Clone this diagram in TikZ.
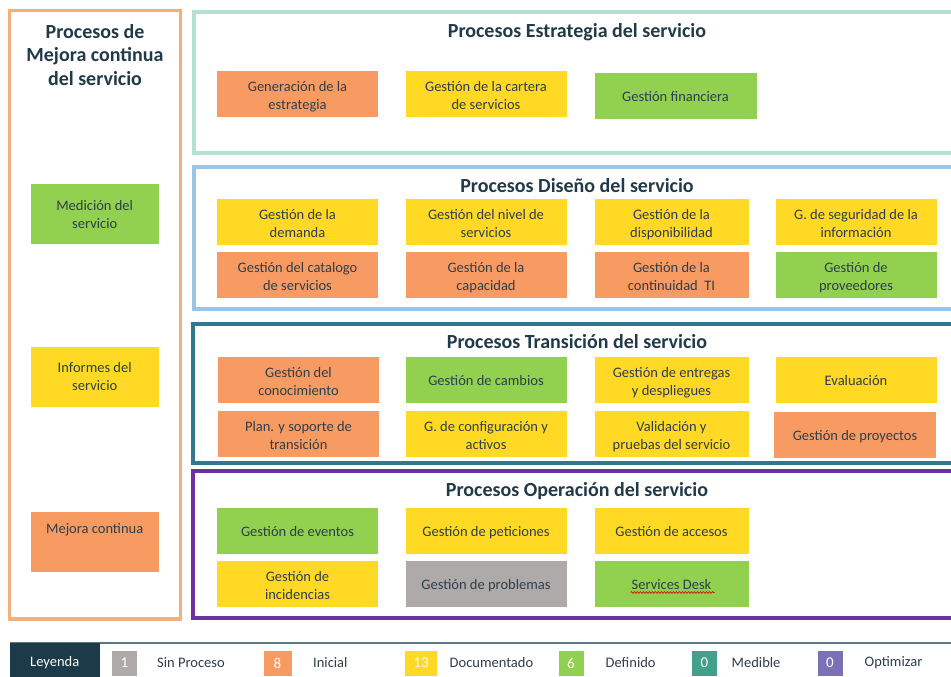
\documentclass[tikz,border=0pt]{standalone}
\usepackage{fontspec}
\setmainfont{Carlito}
\usetikzlibrary{calc,decorations.pathmorphing}

% palette
\definecolor{txt}{HTML}{2E3E4C}
\definecolor{ttl}{HTML}{203A4A}
\definecolor{cOrange}{HTML}{F79B63}
\definecolor{cYellow}{HTML}{FFD923}
\definecolor{cGreen}{HTML}{92D050}
\definecolor{cGrey}{HTML}{AEAAAA}
\definecolor{cTeal}{HTML}{43A08A}
\definecolor{cViolet}{HTML}{7B72B5}
\definecolor{fMejora}{HTML}{F5AF7B}
\definecolor{fEstr}{HTML}{B5E0D3}
\definecolor{fDis}{HTML}{9DC3E6}
\definecolor{fTrans}{HTML}{31788F}
\definecolor{fOper}{HTML}{7030A0}
\definecolor{legLine}{HTML}{5B7883}
\definecolor{legBox}{HTML}{1C3A48}

% two centred lines; the first baseline sits #1 pt below the node centre
\newcommand\twolines[3][-2.3]{\smash{%
  \makebox[0pt]{\raisebox{\dimexpr -#1pt\relax}{#2}}%
  \makebox[0pt]{\raisebox{\dimexpr -#1pt-18pt\relax}{#3}}}}
% one centred line, baseline slightly below the node centre
\newcommand\oneline[1]{\smash{\makebox[0pt]{\raisebox{-5.9pt}{#1}}}}

\tikzset{
  frame/.style={line width=4pt},
  grouptitle/.style={font=\fontsize{20}{23.5}\selectfont\bfseries, text=ttl, align=center, inner sep=0pt},
  pbox/.style={draw=white, line width=0.6pt, minimum width=162pt, minimum height=47pt,
    align=center, inner sep=0pt, font=\fontsize{14.5}{17.7}\selectfont, text=txt},
  narrow/.style={minimum width=155pt},
  lbox/.style={pbox, minimum width=129pt, minimum height=61pt},
  swatch/.style={minimum width=25pt, minimum height=25pt, inner sep=0pt,
    text=white, font=\fontsize{15}{18}\selectfont},
  leglabel/.style={anchor=west, inner sep=0pt, text=txt, font=\fontsize{14.5}{17.7}\selectfont},
}

\begin{document}
\begin{tikzpicture}[x=1pt,y=-1pt]
\useasboundingbox (0,0) rectangle (951,677);
\clip (0,0) rectangle (951,677);
\fill[white] (0,0) rectangle (951,677);

% ---- group frames ----
\draw[frame, line width=3.5pt, fMejora] (9.5,10.5) rectangle (180.5,619);
\draw[frame, fEstr]  (194,12)    rectangle (965,153);
\draw[frame, fDis]   (194,167)   rectangle (965,309);
\draw[frame, fTrans] (193,323.5) rectangle (965,463);
\draw[frame, fOper]  (192.5,470.5) rectangle (965,618);

% ---- group titles ----
\node[grouptitle] (tMej)  at (95,55)  {Procesos de\\Mejora continua\\del servicio};
\node[grouptitle] (tEst)  at (577,32.5) {Procesos Estrategia del servicio};
\node[grouptitle] (tDis)  at (577,186) {Procesos Diseño del servicio};
\node[grouptitle] (tTra)  at (577,342) {Procesos Transición del servicio};
\node[grouptitle] (tOpe)  at (577,491) {Procesos Operación del servicio};

% ---- continual improvement ----
\node[lbox, fill=cGreen]  (m1) at (94.7,213.8) {\twolines[-3.6]{Medición del}{servicio}};
\node[lbox, fill=cYellow] (m2) at (94.7,376.5) {\twolines[-3.6]{Informes del}{servicio}};
\node[lbox, fill=cOrange, text height=20.5pt, text depth=37.5pt] (m3) at (94.7,541.7) {Mejora continua};

% ---- strategy ----
\node[pbox, fill=cOrange] (e1) at (297.5,94) {\twolines{Generación de la}{estrategia}};
\node[pbox, fill=cYellow] (e2) at (486,94)   {\twolines{Gestión de la cartera}{de servicios}};
\node[pbox, fill=cGreen, minimum width=163pt] (e3) at (675.5,96) {\oneline{Gestión financiera}};

% ---- design ----
\node[pbox, fill=cYellow] (d1) at (297.5,222) {\twolines{Gestión de la}{demanda}};
\node[pbox, fill=cYellow] (d2) at (486,222)   {\twolines{Gestión del nivel de}{servicios}};
\node[pbox, narrow, fill=cYellow] (d3) at (671.5,222) {\twolines{Gestión de la}{disponibilidad}};
\node[pbox, fill=cYellow] (d4) at (856,222)   {\twolines{G. de seguridad de la}{información}};
\node[pbox, fill=cOrange] (d5) at (297.5,274.7) {\twolines{Gestión del catalogo}{de servicios}};
\node[pbox, fill=cOrange] (d6) at (486,274.7)   {\twolines{Gestión de la}{capacidad}};
\node[pbox, narrow, fill=cOrange] (d7) at (671.5,274.7) {\twolines{Gestión de la}{continuidad~~TI}};
\node[pbox, fill=cGreen]  (d8) at (856,274.7)   {\twolines{Gestión de}{proveedores}};

% ---- transition ----
\node[pbox, fill=cOrange] (t1) at (298.5,379.5) {\twolines{Gestión del}{conocimiento}};
\node[pbox, fill=cGreen]  (t2) at (486,380)     {\oneline{Gestión de cambios}};
\node[pbox, narrow, fill=cYellow] (t3) at (671.5,380) {\twolines{Gestión de entregas}{y despliegues}};
\node[pbox, fill=cYellow] (t4) at (856,380)     {\oneline{Evaluación}};
\node[pbox, fill=cOrange] (t5) at (298.5,433.5) {\twolines{Plan. y soporte de}{transición}};
\node[pbox, fill=cYellow] (t6) at (486,434)     {\twolines{G. de configuración y}{activos}};
\node[pbox, narrow, fill=cYellow] (t7) at (671.5,434) {\twolines{Validación y}{pruebas del servicio}};
\node[pbox, fill=cOrange, minimum width=163pt] (t8) at (855,434.5) {\oneline{Gestión de proyectos}};

% ---- operation ----
\node[pbox, fill=cGreen]  (o1) at (297.5,531)   {\oneline{Gestión de eventos}};
\node[pbox, fill=cYellow] (o2) at (486,531)     {\oneline{Gestión de peticiones}};
\node[pbox, narrow, fill=cYellow] (o3) at (671.5,531) {\oneline{Gestión de accesos}};
\node[pbox, fill=cYellow] (o4) at (297.5,583.5) {\twolines{Gestión de}{incidencias}};
\node[pbox, fill=cGrey]   (o5) at (486,583.5)   {\oneline{Gestión de problemas}};
\node[pbox, narrow, fill=cGreen] (o6) at (671.5,583.5) {\oneline{Services Desk}};
\draw[red!85!black, line width=0.6pt,
      decorate, decoration={snake, amplitude=0.9pt, segment length=3pt}]
  ($(o6.center)+(-41,9)$) -- ($(o6.center)+(43,9)$);

% ---- legend ----
\draw[legLine, line width=2pt] (10,642.5) -- (951,642.5);
\fill[legBox] (10,642.5) rectangle (99.5,680);
\node[text=white, inner sep=0pt, font=\fontsize{14.5}{17.7}\selectfont] (ley) at (54.7,662.5) {Leyenda};

\node[swatch, fill=cGrey]   (s1) at (124.5,663) {1};
\node[leglabel] (l1) at (157,663) {Sin Proceso};
\node[swatch, fill=cOrange, minimum width=28pt] (s2) at (277.5,663) {8};
\node[leglabel] (l2) at (313,663) {Inicial};
\node[swatch, fill=cYellow, minimum width=32pt] (s3) at (421,663) {13};
\node[leglabel] (l3) at (449.5,663) {Documentado};
\node[swatch, fill=cGreen]  (s4) at (571,663) {6};
\node[leglabel] (l4) at (605.5,663) {Definido};
\node[swatch, fill=cTeal]   (s5) at (704.5,663) {0};
\node[leglabel] (l5) at (731.5,663) {Medible};
\node[swatch, fill=cViolet] (s6) at (830,663) {0};
\node[leglabel] (l6) at (864.5,663) {Optimizar};
\end{tikzpicture}
\end{document}
